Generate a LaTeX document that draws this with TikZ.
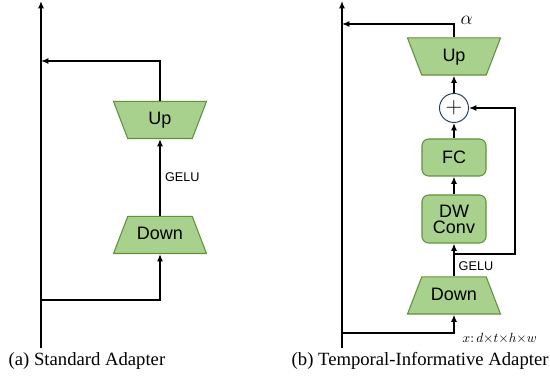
\documentclass[tikz,border=0pt]{standalone}
\usepackage{fontspec}
\setmainfont{Liberation Serif}
\setsansfont{Liberation Sans}
\usetikzlibrary{shapes.geometric,arrows.meta}
\definecolor{layerfill}{RGB}{169,209,142}
\definecolor{layerline}{RGB}{98,145,60}
\definecolor{sumline}{RGB}{31,56,100}
\tikzset{
  layer/.style={trapezium, trapezium angle=69, draw=layerline, fill=layerfill, line width=0.8pt, text width=40pt, align=center, text height=10pt, text depth=3pt, inner xsep=4.2pt, inner ysep=7.4pt, font=\sffamily\fontsize{13.5}{14}\selectfont},
  uplayer/.style={layer, shape border rotate=180},
  opbox/.style={rectangle, rounded corners=5pt, draw=layerline, fill=layerfill, line width=0.8pt, minimum width=48pt, align=center, inner sep=0pt, font=\sffamily\fontsize{13.5}{13.5}\selectfont},
  sumnode/.style={circle, draw=sumline, fill=white, line width=0.7pt, minimum size=21.75pt, inner sep=0pt, font=\fontsize{16}{16}\selectfont},
  flow/.style={line width=1pt, -{Latex[length=5.5pt,width=4.5pt]}},
  act/.style={font=\sffamily\fontsize{9.5}{10}\selectfont, anchor=west},
  captext/.style={font=\fontsize{14}{15}\selectfont, anchor=west}
}
\begin{document}
\begin{tikzpicture}[x=0.75pt,y=0.75pt,yscale=-1]
\useasboundingbox (0,0) rectangle (550,377);
% (a) standard adapter
\coordinate (a_in) at (41,348);
\coordinate (a_out) at (41,1);
\coordinate (a_split) at (41,300);
\coordinate (a_join) at (41,61);
\node [layer] (a_down) at (160,235) {Down};
\node [uplayer] (a_up) at (160,120) {Up};
\draw [flow] (a_in) -- (a_out);
\draw [flow] (a_split) -| (a_down.bottom side);
\draw [flow] (a_down.top side) -- (a_up.top side) node [pos=0.5, act] {GELU};
\draw [flow] (a_up.bottom side) |- (a_join);
\node [captext] (a_cap) at (4,361) {(a) Standard Adapter};
% (b) temporal-informative adapter
\coordinate (b_in) at (342,348);
\coordinate (b_out) at (342,1);
\coordinate (b_split) at (342,333);
\coordinate (b_join) at (342,24);
\coordinate (b_skip) at (454,254);
\node [layer] (b_down) at (454,295.5) {Down};
\node [opbox, minimum height=36pt] (b_dw) at (454,219) {DW\\[-1.5pt]Conv};
\node [opbox, minimum height=27.75pt] (b_fc) at (454,157.5) {FC};
\node [sumnode] (b_sum) at (454,108) {$+$};
\node [uplayer] (b_up) at (454,56.5) {Up};
\draw [flow] (b_in) -- (b_out);
\draw [flow] (b_split) -| (b_down.bottom side);
\draw [flow] (b_down.top side) -- (b_dw.south);
\draw [flow] (b_skip) -- (515,254) |- (b_sum.east);
\draw [flow] (b_dw.north) -- (b_fc.south);
\draw [flow] (b_fc.north) -- (b_sum.south);
\draw [flow] (b_sum.north) -- (b_up.top side);
\draw [flow] (b_up.bottom side) |- (b_join);
\node [act] (b_gelu) at (454,266) {GELU};
\node [anchor=west, font=\fontsize{14}{14}\selectfont] (b_alpha) at (456,20) {$\alpha$};
\node [anchor=west, font=\fontsize{10}{10}\selectfont] (b_shape) at (458,338) {$x\colon d{\times}t{\times}h{\times}w$};
\node [captext] (b_cap) at (287,361) {(b) Temporal-Informative Adapter};
\end{tikzpicture}
\end{document}
